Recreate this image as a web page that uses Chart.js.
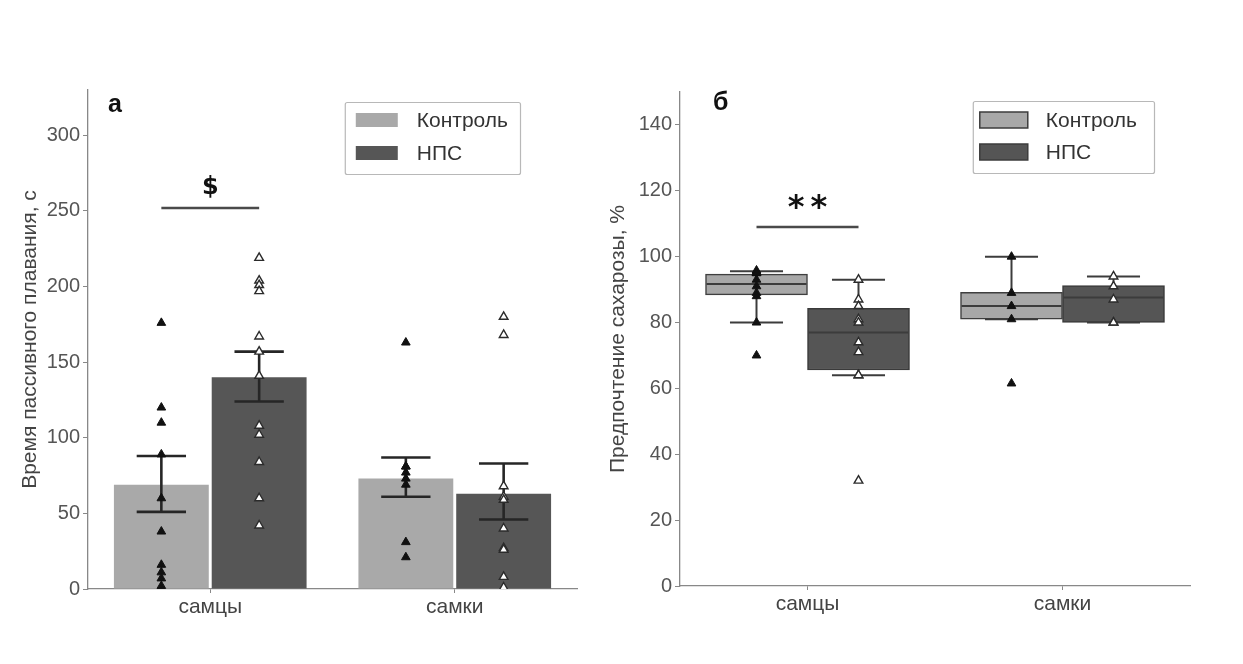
<!DOCTYPE html>
<html lang="ru">
<head>
<meta charset="utf-8">
<title>Время пассивного плавания и предпочтение сахарозы</title>
<script src="https://cdn.jsdelivr.net/npm/chart.js@4.4.1/dist/chart.umd.min.js"></script>
<style>
  html, body { margin: 0; padding: 0; background: #fff; }
  body { width: 1243px; height: 664px; position: relative; overflow: hidden; }
  .panel { position: absolute; top: 0; height: 664px; }
  #panelA { left: 0; width: 600px; }
  #panelB { left: 600px; width: 643px; }
</style>
</head>
<body>
<div class="panel" id="panelA"><canvas id="chartA"></canvas></div>
<div class="panel" id="panelB"><canvas id="chartB"></canvas></div>
<script>
// --- данные ---
const groups = ['самцы', 'самки'];
const seriesNames = ['Контроль', 'НПС'];

// а: время пассивного плавания, с
const swimCtrlMean = [69, 73];
const swimNpsMean = [140, 63];
const swimCtrlErrLow = [51, 61];
const swimCtrlErrHigh = [88, 87];
const swimNpsErrLow = [124, 46];
const swimNpsErrHigh = [157, 83];
const swimCtrlPoints = [
  [176, 120, 110, 89, 60, 38, 16, 11, 7, 2],
  [163, 81, 81, 77, 73, 69, 31, 21]
];
const swimNpsPoints = [
  [219, 204, 201, 197, 167, 157, 141, 108, 102, 84, 60, 42],
  [180, 168, 68, 61, 59, 40, 27, 26, 8, 1]
];
const swimTicks = [0, 50, 100, 150, 200, 250, 300];
const swimSig = { group: 0, value: 252, text: '$' };

// б: предпочтение сахарозы, %
const sucCtrlQ1 = [88.4, 81];
const sucCtrlMedian = [91.7, 85];
const sucCtrlQ3 = [94.7, 89.2];
const sucCtrlWhiskLow = [80, 81];
const sucCtrlWhiskHigh = [95.6, 100];
const sucNpsQ1 = [65.6, 80];
const sucNpsMedian = [77, 87.6];
const sucNpsQ3 = [84.3, 91.2];
const sucNpsWhiskLow = [64, 80];
const sucNpsWhiskHigh = [93, 94];
const sucCtrlPoints = [
  [95.8, 95.4, 95, 95, 93, 91, 89, 88, 80, 70],
  [100, 89, 85, 81, 61.5]
];
const sucNpsPoints = [
  [93, 87, 85, 81, 80, 74, 71, 64, 64, 32],
  [94, 91, 87, 80, 80]
];
const sucTicks = [0, 20, 40, 60, 80, 100, 120, 140];
const sucSig = { group: 0, value: 109, text: '**' };

// --- оформление ---
const FONT = "'Liberation Sans', Arial, sans-serif";
const CTRL_COLOR = '#a9a9a9';
const NPS_COLOR = '#565656';
const GROUP_WIDTH = 0.8;
const SHIFT = GROUP_WIDTH / 4;

// столбцы/ящики стоят на скрытой линейной оси, сдвиг внутри группы
function barData(values, shift) {
  return values.map((v, i) => ({ x: i + shift, y: v }));
}

function stripDataset(label, lists, shift, filled) {
  const data = [];
  lists.forEach((vals, i) => {
    vals.forEach(v => data.push({ x: i + shift, y: v }));
  });
  return {
    type: 'scatter',
    label,
    data,
    xAxisID: 'xs',
    yAxisID: 'y',
    order: 1,
    pointStyle: 'triangle',
    pointRadius: 5,
    pointHoverRadius: 5,
    backgroundColor: filled ? '#111' : '#fff',
    borderColor: filled ? '#111' : '#2b2b2b',
    borderWidth: filled ? 1 : 1.4
  };
}

function line(ctx, x1, y1, x2, y2) {
  ctx.beginPath();
  ctx.moveTo(x1, y1);
  ctx.lineTo(x2, y2);
  ctx.stroke();
}

const decorPlugin = {
  id: 'decor',
  afterDatasetDraw(chart, args) {
    const meta = args.meta;
    if (meta.type !== 'bar') return;
    const ds = chart.data.datasets[args.index];
    const y = chart.scales.y;
    const ctx = chart.ctx;
    ctx.save();
    ctx.lineCap = 'butt';
    meta.data.forEach((bar, i) => {
      const half = bar.width * 0.26;
      if (ds.errLow) {
        ctx.strokeStyle = '#262626';
        ctx.lineWidth = 2.6;
        const lo = y.getPixelForValue(ds.errLow[i]);
        const hi = y.getPixelForValue(ds.errHigh[i]);
        line(ctx, bar.x, lo, bar.x, hi);
        line(ctx, bar.x - half, lo, bar.x + half, lo);
        line(ctx, bar.x - half, hi, bar.x + half, hi);
      }
      if (ds.median) {
        const hw = bar.width / 2 - 1;
        ctx.strokeStyle = '#3c3c3c';
        ctx.lineWidth = 2;
        const m = y.getPixelForValue(ds.median[i]);
        line(ctx, bar.x - hw, m, bar.x + hw, m);
        const q1 = y.getPixelForValue(ds.data[i].y[0]);
        const q3 = y.getPixelForValue(ds.data[i].y[1]);
        const wl = y.getPixelForValue(ds.whiskLow[i]);
        const wh = y.getPixelForValue(ds.whiskHigh[i]);
        line(ctx, bar.x, q3, bar.x, wh);
        line(ctx, bar.x, q1, bar.x, wl);
        line(ctx, bar.x - half, wh, bar.x + half, wh);
        line(ctx, bar.x - half, wl, bar.x + half, wl);
      }
    });
    ctx.restore();
  },
  afterDraw(chart, args, opts) {
    const ctx = chart.ctx;
    const area = chart.chartArea;
    const y = chart.scales.y;
    ctx.save();

    // значимость
    const sig = opts.sig;
    const x1 = chart.getDatasetMeta(0).data[sig.group].x;
    const x2 = chart.getDatasetMeta(1).data[sig.group].x;
    const sy = y.getPixelForValue(sig.value);
    ctx.strokeStyle = '#4a4a4a';
    ctx.lineWidth = 2.6;
    line(ctx, x1, sy, x2, sy);
    ctx.fillStyle = '#111';
    ctx.font = opts.sigFont;
    ctx.letterSpacing = opts.sigSpacing + 'px';
    ctx.textAlign = 'center';
    ctx.textBaseline = 'bottom';
    ctx.fillText(sig.text, (x1 + x2) / 2 + opts.sigSpacing / 2, sy - opts.sigGap);
    ctx.letterSpacing = '0px';

    // буква панели
    ctx.font = `bold 25px ${FONT}`;
    ctx.textAlign = 'left';
    ctx.textBaseline = 'alphabetic';
    ctx.fillText(opts.letter, area.left + opts.letterDx, area.top + opts.letterDy);

    // легенда
    const lg = opts.legend;
    const items = chart.data.datasets.filter(d => d.type !== 'scatter');
    ctx.font = `21px ${FONT}`;
    const textW = Math.max(...items.map(d => ctx.measureText(d.label).width));
    const boxW = lg.pad + lg.swatchW + lg.gap + textW + lg.padRight;
    const bx = area.right - lg.right - boxW;
    const by = area.top + lg.top;
    ctx.fillStyle = '#fff';
    ctx.strokeStyle = '#b8b8b8';
    ctx.lineWidth = 1.2;
    ctx.beginPath();
    ctx.roundRect(bx + 0.5, by + 0.5, boxW, lg.height, 2);
    ctx.fill();
    ctx.stroke();
    items.forEach((d, k) => {
      const cy = by + lg.rowFirst + k * lg.rowStep;
      ctx.fillStyle = d.backgroundColor;
      ctx.fillRect(bx + lg.pad, cy - lg.swatchH / 2, lg.swatchW, lg.swatchH);
      if (lg.swatchBorder) {
        ctx.strokeStyle = '#3c3c3c';
        ctx.lineWidth = 1.5;
        ctx.strokeRect(bx + lg.pad, cy - lg.swatchH / 2, lg.swatchW, lg.swatchH);
      }
      ctx.fillStyle = '#333';
      ctx.textBaseline = 'middle';
      ctx.fillText(d.label, bx + lg.pad + lg.swatchW + lg.gap, cy + 1);
    });
    ctx.restore();
  }
};

function baseScales(cfg) {
  return {
    x: {
      type: 'category',
      labels: groups,
      offset: true,
      grid: { offset: false, drawOnChartArea: false, tickLength: 4, color: '#888' },
      border: { color: '#888', width: 1.3 },
      ticks: { font: { family: FONT, size: 21 }, color: '#444', padding: 2 },
      afterFit: s => { s.height = cfg.xHeight; }
    },
    xs: { type: 'linear', display: false, offset: false, min: -0.5, max: 1.5 },
    y: {
      min: 0,
      max: cfg.yMax,
      grid: { drawOnChartArea: false, tickLength: 5, color: '#888' },
      border: { color: '#888', width: 1.3 },
      ticks: { font: { family: FONT, size: 20 }, color: '#555', padding: 3 },
      afterBuildTicks: s => { s.ticks = cfg.ticks.map(v => ({ value: v })); },
      afterFit: s => { s.width = cfg.yWidth; },
      title: {
        display: true,
        text: cfg.title,
        font: { family: FONT, size: 21 },
        color: '#444',
        padding: { top: 4, bottom: 0 }
      }
    }
  };
}

function commonOptions(cfg, decor) {
  return {
    responsive: true,
    maintainAspectRatio: false,
    animation: false,
    layout: { padding: cfg.padding },
    plugins: { legend: { display: false }, tooltip: { enabled: false }, decor },
    scales: baseScales(cfg)
  };
}

// --- а: столбцы ---
new Chart(document.getElementById('chartA'), {
  type: 'bar',
  data: {
    labels: groups,
    datasets: [
      {
        label: seriesNames[0], data: barData(swimCtrlMean, -SHIFT), xAxisID: 'xs', order: 2,
        backgroundColor: CTRL_COLOR, borderWidth: 0, grouped: false,
        categoryPercentage: 1, barPercentage: 0.97,
        errLow: swimCtrlErrLow, errHigh: swimCtrlErrHigh
      },
      {
        label: seriesNames[1], data: barData(swimNpsMean, SHIFT), xAxisID: 'xs', order: 2,
        backgroundColor: NPS_COLOR, borderWidth: 0, grouped: false,
        categoryPercentage: 1, barPercentage: 0.97,
        errLow: swimNpsErrLow, errHigh: swimNpsErrHigh
      },
      stripDataset(seriesNames[0] + ' точки', swimCtrlPoints, -SHIFT, true),
      stripDataset(seriesNames[1] + ' точки', swimNpsPoints, SHIFT, false)
    ]
  },
  options: commonOptions(
    {
      padding: { left: 14, top: 90, right: 23, bottom: 0 },
      yMax: 330, ticks: swimTicks, yWidth: 74, xHeight: 75,
      title: 'Время пассивного плавания, с'
    },
    {
      sig: swimSig, sigFont: `bold 24px 'DejaVu Sans', ${FONT}`, sigGap: 8, sigSpacing: 0,
      letter: 'а', letterDx: 20, letterDy: 22,
      legend: { right: 57, top: 12, height: 72, pad: 11, padRight: 12, swatchW: 42, swatchH: 14, swatchBorder: false, gap: 19, rowFirst: 18, rowStep: 33 }
    }
  ),
  plugins: [decorPlugin]
});

// --- б: ящики с усами ---
new Chart(document.getElementById('chartB'), {
  type: 'bar',
  data: {
    labels: groups,
    datasets: [
      {
        label: seriesNames[0], xAxisID: 'xs', order: 2,
        data: groups.map((g, i) => ({ x: i - SHIFT, y: [sucCtrlQ1[i], sucCtrlQ3[i]] })),
        backgroundColor: '#a8a8a8', borderColor: '#3f3f3f', borderWidth: 1.5, borderSkipped: false,
        grouped: false, categoryPercentage: 1, barPercentage: 1,
        median: sucCtrlMedian, whiskLow: sucCtrlWhiskLow, whiskHigh: sucCtrlWhiskHigh
      },
      {
        label: seriesNames[1], xAxisID: 'xs', order: 2,
        data: groups.map((g, i) => ({ x: i + SHIFT, y: [sucNpsQ1[i], sucNpsQ3[i]] })),
        backgroundColor: '#555555', borderColor: '#3a3a3a', borderWidth: 1.5, borderSkipped: false,
        grouped: false, categoryPercentage: 1, barPercentage: 1,
        median: sucNpsMedian, whiskLow: sucNpsWhiskLow, whiskHigh: sucNpsWhiskHigh
      },
      stripDataset(seriesNames[0] + ' точки', sucCtrlPoints, -SHIFT, true),
      stripDataset(seriesNames[1] + ' точки', sucNpsPoints, SHIFT, false)
    ]
  },
  options: commonOptions(
    {
      padding: { left: 2, top: 92, right: 53, bottom: 0 },
      yMax: 150, ticks: sucTicks, yWidth: 78, xHeight: 78,
      title: 'Предпочтение сахарозы, %'
    },
    {
      sig: sucSig, sigFont: `bold 32px 'DejaVu Sans', ${FONT}`, sigGap: 2, sigSpacing: 6,
      letter: 'б', letterDx: 33, letterDy: 18,
      legend: { right: 36, top: 9, height: 72, pad: 7, padRight: 17, swatchW: 48, swatchH: 16, swatchBorder: true, gap: 18, rowFirst: 19, rowStep: 32 }
    }
  ),
  plugins: [decorPlugin]
});
</script>
</body>
</html>
